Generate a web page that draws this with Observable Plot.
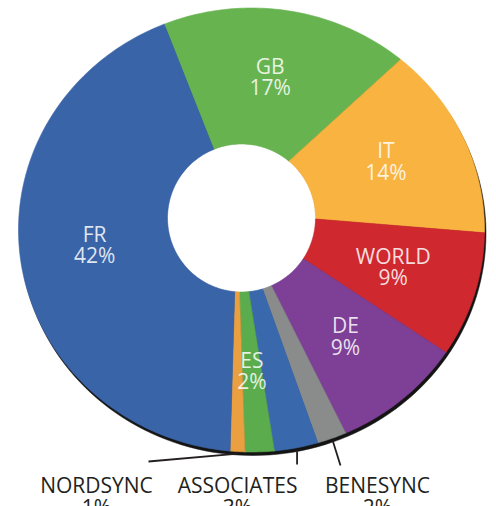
<!DOCTYPE html>
<html>
<head>
<meta charset="utf-8">
<script src="https://cdn.jsdelivr.net/npm/d3@7"></script>
<script src="https://cdn.jsdelivr.net/npm/@observablehq/plot@0.6"></script>
<style>
  html, body { margin: 0; padding: 0; background: #ffffff; }
  svg { display: block; }
</style>
</head>
<body>
<script>
// ---- Data (clockwise from the top) ----
const names  = ["GB", "IT", "WORLD", "DE", "BENESYNC", "ASSOCIATES", "ES", "NORDSYNC", "FR"];
const shares = [17, 14, 9, 9, 2, 3, 2, 1, 42];
const palette = ["#67b350", "#f8b340", "#d0282f", "#7e3f96", "#8a8c8c", "#3a68ad", "#5aac4d", "#eaa040", "#3a64a8"];
const outsideNames = ["NORDSYNC", "ASSOCIATES", "BENESYNC"];

// ---- Layout (pixels) ----
const W = 496, H = 506;
const outer = {cx: 251, cy: 229.5, rx: 233, ry: 222};
const inner = {cx: 241, cy: 217.5, r: 74};
const shadow = {dx: 1.5, dy: 3.5};
const startDeg = -22;
const calloutLayout = {
  NORDSYNC:   {tx: 96,  ty: 477, ex: 148,  ey: 461},
  ASSOCIATES: {tx: 237, ty: 477, ex: null, ey: 464},
  BENESYNC:   {tx: 377, ty: 477, ex: 340,  ey: 465}
};

const total = d3.sum(shares);
const rad = d => d * Math.PI / 180;
const outerPt = (a, dx = 0, dy = 0) => [outer.cx + dx + outer.rx * Math.sin(a), outer.cy + dy - outer.ry * Math.cos(a)];
const innerPt = a => [inner.cx + inner.r * Math.sin(a), inner.cy - inner.r * Math.cos(a)];

// slices
let acc = 0;
const slices = names.map((name, i) => {
  const a0 = rad(startDeg + acc / total * 360);
  acc += shares[i];
  const a1 = rad(startDeg + acc / total * 360);
  return {name, share: shares[i], color: palette[i], a0, a1, mid: (a0 + a1) / 2};
});

function slicePoints(s) {
  const n = Math.max(6, Math.ceil((s.a1 - s.a0) * 180 / Math.PI));
  const pts = [];
  for (let k = 0; k <= n; k++) { const a = s.a0 + (s.a1 - s.a0) * k / n; const [x, y] = outerPt(a); pts.push({x, y}); }
  for (let k = n; k >= 0; k--) { const a = s.a0 + (s.a1 - s.a0) * k / n; const [x, y] = innerPt(a); pts.push({x, y}); }
  pts.push(pts[0]);
  return pts;
}

const shadowPts = d3.range(0, 361, 2).map(d => { const [x, y] = outerPt(rad(d), shadow.dx, shadow.dy); return {x, y}; });
const holePts = d3.range(0, 361, 2).map(d => { const [x, y] = innerPt(rad(d)); return {x, y}; });

// inside labels
const insideLabels = slices.filter(s => !outsideNames.includes(s.name)).map(s => {
  const [ox, oy] = outerPt(s.mid);
  const [ix, iy] = innerPt(s.mid);
  return {x: (ox + ix) / 2, y: (oy + iy) / 2, text: `${s.name}\n${s.share}%`};
});

// callouts
const callouts = slices.filter(s => outsideNames.includes(s.name)).map(s => {
  const L = calloutLayout[s.name];
  const [sx, sy] = outerPt(s.mid, shadow.dx * 0.5, shadow.dy * 0.6);
  return {x1: sx, y1: sy, x2: L.ex === null ? sx : L.ex, y2: L.ey, tx: L.tx, ty: L.ty, text: `${s.name}\n${s.share}%`};
});

const font = "'Open Sans', 'Noto Sans', sans-serif";

const chart = Plot.plot({
  width: W,
  height: H,
  margin: 0,
  style: {background: "#ffffff", fontFamily: font},
  x: {domain: [0, W], range: [0, W], axis: null},
  y: {domain: [0, H], range: [0, H], axis: null},
  marks: [
    Plot.line(shadowPts, {x: "x", y: "y", fill: "#141414", stroke: "#141414", strokeWidth: 0.5}),
    Plot.line(holePts, {x: "x", y: "y", fill: "#ffffff", stroke: "#ffffff", strokeWidth: 1}),
    ...slices.map(s => Plot.line(slicePoints(s), {x: "x", y: "y", fill: s.color, stroke: s.color, strokeWidth: 0.6})),
    Plot.text(insideLabels, {x: "x", y: "y", text: "text", fill: "white", fillOpacity: 0.85, fontSize: 21, lineHeight: 1.02, fontFamily: font}),
    Plot.link(callouts, {x1: "x1", y1: "y1", x2: "x2", y2: "y2", stroke: "#231f20", strokeWidth: 1.8}),
    Plot.text(callouts, {x: "tx", y: "ty", text: "text", fill: "#231f20", fontSize: 21, lineHeight: 1.05, lineAnchor: "top", fontFamily: font})
  ]
});

document.body.appendChild(chart);
</script>
</body>
</html>
